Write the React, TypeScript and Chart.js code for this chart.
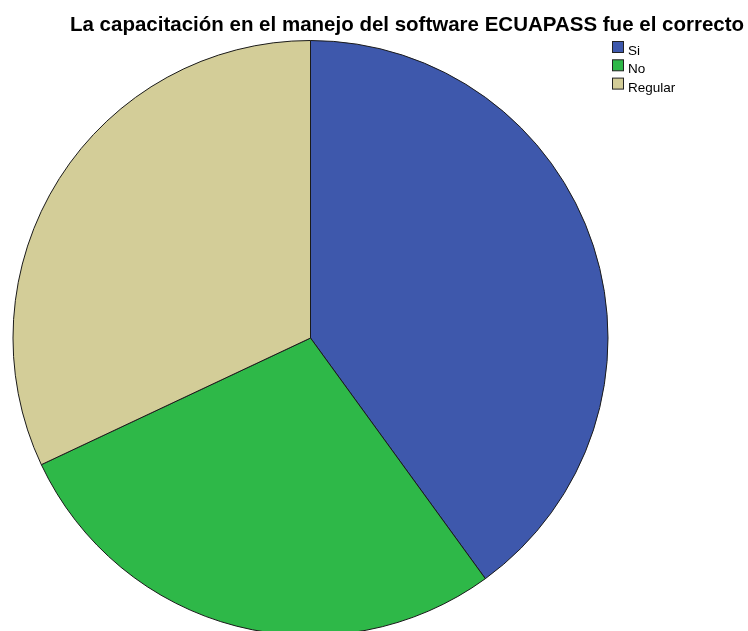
import React, { useEffect, useRef } from "react";
import { Chart, registerables } from "chart.js";

Chart.register(...registerables);

const chartTitle = "La capacitación en el manejo del software ECUAPASS fue el correcto";
const categories = ["Si", "No", "Regular"];
const percentages = [40, 28, 32];
const sliceColors = ["#3E58AC", "#2EB848", "#D3CD98"];

const overlayPlugin = {
  id: "spssOverlay",
  afterDraw(chart: any) {
    const ctx = chart.ctx as CanvasRenderingContext2D;
    ctx.save();
    // Title
    ctx.fillStyle = "#000000";
    ctx.font = 'bold 20.5px "Liberation Sans", Arial, sans-serif';
    ctx.textAlign = "left";
    ctx.textBaseline = "alphabetic";
    ctx.fillText(chartTitle, 70, 31);
    // Legend
    const labels: string[] = chart.data.labels;
    const colors: string[] = chart.data.datasets[0].backgroundColor;
    ctx.font = '13.5px "Liberation Sans", Arial, sans-serif';
    labels.forEach((lab, i) => {
      const top = 41.5 + i * 18.3;
      ctx.fillStyle = colors[i];
      ctx.fillRect(612.5, top, 11, 11);
      ctx.strokeStyle = "#222222";
      ctx.lineWidth = 1;
      ctx.strokeRect(612.5, top, 11, 11);
      ctx.fillStyle = "#000000";
      ctx.fillText(lab, 628, top + 13.5);
    });
    ctx.restore();
  },
};

export default function App() {
  const canvasRef = useRef<HTMLCanvasElement | null>(null);

  useEffect(() => {
    document.body.style.margin = "0";
    document.body.style.overflow = "hidden";
    const canvas = canvasRef.current;
    if (!canvas) return;
    const chart = new Chart(canvas, {
      type: "pie",
      data: {
        labels: categories,
        datasets: [
          {
            data: percentages,
            backgroundColor: sliceColors,
            borderColor: "#1a1a1a",
            borderWidth: 1,
          },
        ],
      },
      options: {
        animation: false,
        responsive: false,
        maintainAspectRatio: false,
        devicePixelRatio: 1,
        layout: {
          padding: { left: 12, right: 139, top: 40, bottom: 64 },
        },
        plugins: {
          legend: { display: false },
          title: { display: false },
          tooltip: { enabled: false },
        },
      },
      plugins: [overlayPlugin],
    });
    return () => chart.destroy();
  }, []);

  return (
    <div style={{ position: "absolute", left: 0, top: 0, width: 748, height: 631, overflow: "hidden", background: "#ffffff" }}>
      <canvas ref={canvasRef} width={748} height={700} style={{ display: "block", width: 748, height: 700 }} />
    </div>
  );
}
